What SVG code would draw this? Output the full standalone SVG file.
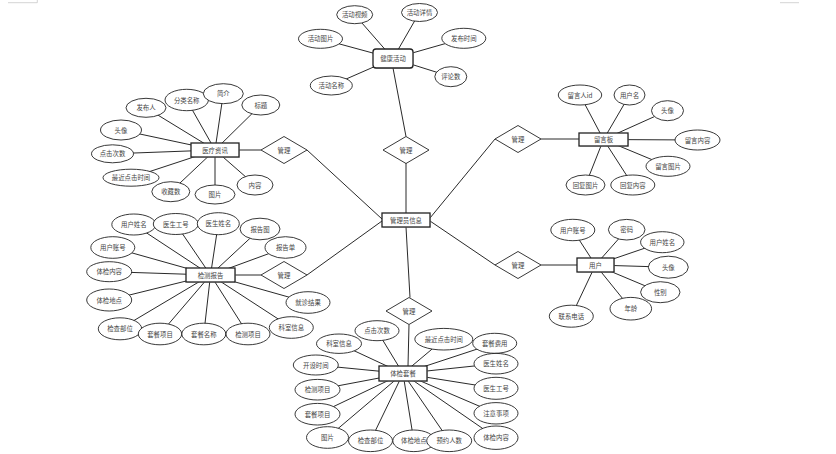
<svg xmlns="http://www.w3.org/2000/svg" width="836" height="454" viewBox="0 0 836 454">
<style>
text{font-family:"Noto Sans CJK SC","Noto Sans",sans-serif;font-size:6.4px;fill:#444;text-anchor:middle;dominant-baseline:central}
.c line{stroke:#111;stroke-width:0.9}
.a{fill:#fff;stroke:#222;stroke-width:0.9}
.e{fill:#fff;stroke:#222;stroke-width:1.3}
.sh{fill:#bbb;opacity:0.5}
.r{fill:#fff;stroke:#222;stroke-width:0.9}
.mark{stroke:#c8c8c8;stroke-width:0.8;fill:none}
</style>
<rect width="836" height="454" fill="#fff"/>
<path class="mark" d="M8,2.7H37.3V0M780,2.7H799"/>
<g id="connectors" class="c">
<line x1="406" y1="163" x2="406" y2="213"/>
<line x1="406" y1="136.5" x2="393" y2="68"/>
<line x1="261" y1="150" x2="239" y2="150"/>
<line x1="307" y1="150" x2="382" y2="219"/>
<line x1="261" y1="275" x2="235" y2="275"/>
<line x1="307" y1="275" x2="382" y2="221"/>
<line x1="541" y1="139" x2="579" y2="139"/>
<line x1="495" y1="139" x2="430" y2="218"/>
<line x1="541" y1="265" x2="577" y2="265"/>
<line x1="495" y1="265" x2="430" y2="221"/>
<line x1="410" y1="297.5" x2="406" y2="227"/>
<line x1="409" y1="324.5" x2="408" y2="366"/>
<!-- activity -->
<line x1="354.7" y1="14.7" x2="393" y2="58.5"/>
<line x1="419.5" y1="12.5" x2="393" y2="58.5"/>
<line x1="320.5" y1="38.8" x2="393" y2="58.5"/>
<line x1="463.8" y1="38.3" x2="393" y2="58.5"/>
<line x1="331.3" y1="85.5" x2="393" y2="58.5"/>
<line x1="450.8" y1="76.7" x2="393" y2="58.5"/>
<!-- news -->
<line x1="146" y1="107.8" x2="215" y2="150"/>
<line x1="186.7" y1="100" x2="215" y2="150"/>
<line x1="223.3" y1="93.7" x2="215" y2="150"/>
<line x1="260.8" y1="105" x2="215" y2="150"/>
<line x1="121" y1="130" x2="215" y2="150"/>
<line x1="112.5" y1="153.8" x2="215" y2="150"/>
<line x1="131" y1="177.7" x2="215" y2="150"/>
<line x1="170.8" y1="191.7" x2="215" y2="150"/>
<line x1="215" y1="194.5" x2="215" y2="150"/>
<line x1="255" y1="185" x2="215" y2="150"/>
<!-- board -->
<line x1="580" y1="95" x2="603.5" y2="139.5"/>
<line x1="629.5" y1="95" x2="603.5" y2="139.5"/>
<line x1="667.5" y1="110.7" x2="603.5" y2="139.5"/>
<line x1="697.5" y1="140" x2="603.5" y2="139.5"/>
<line x1="668" y1="166.3" x2="603.5" y2="139.5"/>
<line x1="585.5" y1="185" x2="603.5" y2="139.5"/>
<line x1="632.8" y1="185" x2="603.5" y2="139.5"/>
<!-- report -->
<line x1="133.8" y1="224.5" x2="210.5" y2="275"/>
<line x1="175.8" y1="224" x2="210.5" y2="275"/>
<line x1="218.3" y1="223.7" x2="210.5" y2="275"/>
<line x1="260" y1="229" x2="210.5" y2="275"/>
<line x1="285.5" y1="247.5" x2="210.5" y2="275"/>
<line x1="112.8" y1="247.5" x2="210.5" y2="275"/>
<line x1="109.2" y1="271.7" x2="210.5" y2="275"/>
<line x1="109.2" y1="300" x2="210.5" y2="275"/>
<line x1="120" y1="328.8" x2="210.5" y2="275"/>
<line x1="160" y1="334" x2="210.5" y2="275"/>
<line x1="203.8" y1="334" x2="210.5" y2="275"/>
<line x1="248" y1="334" x2="210.5" y2="275"/>
<line x1="291.3" y1="327.5" x2="210.5" y2="275"/>
<line x1="308" y1="302.5" x2="210.5" y2="275"/>
<!-- user -->
<line x1="572.8" y1="230" x2="595.5" y2="265"/>
<line x1="626.7" y1="229.7" x2="595.5" y2="265"/>
<line x1="662.3" y1="242.2" x2="595.5" y2="265"/>
<line x1="668.3" y1="267.2" x2="595.5" y2="265"/>
<line x1="660.3" y1="292.2" x2="595.5" y2="265"/>
<line x1="630.8" y1="308.7" x2="595.5" y2="265"/>
<line x1="571.3" y1="316.2" x2="595.5" y2="265"/>
<!-- package -->
<line x1="377" y1="330.7" x2="403" y2="373.5"/>
<line x1="443.8" y1="339.2" x2="403" y2="373.5"/>
<line x1="339" y1="343.7" x2="403" y2="373.5"/>
<line x1="494.7" y1="343.3" x2="403" y2="373.5"/>
<line x1="315.8" y1="365" x2="403" y2="373.5"/>
<line x1="496" y1="363.7" x2="403" y2="373.5"/>
<line x1="317.5" y1="389.7" x2="403" y2="373.5"/>
<line x1="496" y1="388.3" x2="403" y2="373.5"/>
<line x1="317.5" y1="414.2" x2="403" y2="373.5"/>
<line x1="496" y1="413.3" x2="403" y2="373.5"/>
<line x1="327.5" y1="437.5" x2="403" y2="373.5"/>
<line x1="370.5" y1="440.8" x2="403" y2="373.5"/>
<line x1="413.8" y1="440.8" x2="403" y2="373.5"/>
<line x1="449.2" y1="440.8" x2="403" y2="373.5"/>
<line x1="496" y1="437.7" x2="403" y2="373.5"/>
</g>

<!-- relationships -->
<g id="rel-activity"><polygon class="r" points="406,136.5 429,150 406,163.5 383,150"/><text x="406" y="150">管理</text></g>
<g id="rel-news"><polygon class="r" points="284,136.5 307,150 284,163.5 261,150"/><text x="284" y="150">管理</text></g>
<g id="rel-report"><polygon class="r" points="284,261.5 307,275 284,288.5 261,275"/><text x="284" y="275">管理</text></g>
<g id="rel-board"><polygon class="r" points="518,125.5 541,139 518,152.5 495,139"/><text x="518" y="139">管理</text></g>
<g id="rel-user"><polygon class="r" points="518,251.5 541,265 518,278.5 495,265"/><text x="518" y="265">管理</text></g>
<g id="rel-package"><polygon class="r" points="409,297.5 432,311 409,324.5 386,311"/><text x="409" y="311">管理</text></g>

<!-- entities -->
<g id="admin"><rect class="sh" x="383" y="214" width="48" height="14"/><rect class="e" x="382" y="213" width="48" height="14"/><text x="406" y="220">管理员信息</text></g>
<g id="activity"><rect class="sh" x="374" y="50" width="40" height="19" rx="3"/><rect class="e" x="373" y="49" width="40" height="19" rx="3"/><text x="393" y="58.5">健康活动</text></g>
<g id="news"><rect class="sh" x="192" y="144" width="48" height="14"/><rect class="e" x="191" y="143" width="48" height="14"/><text x="215" y="150">医疗资讯</text></g>
<g id="board"><rect class="sh" x="580" y="134" width="49" height="13"/><rect class="e" x="579" y="133" width="49" height="13"/><text x="603.5" y="139.5">留言板</text></g>
<g id="report"><rect class="sh" x="187" y="269" width="49" height="14"/><rect class="e" x="186" y="268" width="49" height="14"/><text x="210.5" y="275">检测报告</text></g>
<g id="user"><rect class="sh" x="578" y="259" width="37" height="14"/><rect class="e" x="577" y="258" width="37" height="14"/><text x="595.5" y="265">用户</text></g>
<g id="package"><rect class="sh" x="380" y="367" width="48" height="15"/><rect class="e" x="379" y="366" width="48" height="15"/><text x="403" y="373.5">体检套餐</text></g>

<!-- activity attributes -->
<g id="act-video"><ellipse class="a" cx="354.7" cy="14.7" rx="18" ry="9"/><text x="354.7" y="14.7">活动视频</text></g>
<g id="act-detail"><ellipse class="a" cx="419.5" cy="12.5" rx="18" ry="9"/><text x="419.5" y="12.5">活动详情</text></g>
<g id="act-pic"><ellipse class="a" cx="320.5" cy="38.8" rx="22" ry="9.5"/><text x="320.5" y="38.8">活动图片</text></g>
<g id="act-time"><ellipse class="a" cx="463.8" cy="38.3" rx="22" ry="10"/><text x="463.8" y="38.3">发布时间</text></g>
<g id="act-name"><ellipse class="a" cx="331.3" cy="85.5" rx="21" ry="9.5"/><text x="331.3" y="85.5">活动名称</text></g>
<g id="act-comments"><ellipse class="a" cx="450.8" cy="76.7" rx="16" ry="10"/><text x="450.8" y="76.7">评论数</text></g>

<!-- news attributes -->
<g id="news-pub"><ellipse class="a" cx="146" cy="107.8" rx="20" ry="9.5"/><text x="146" y="107.8">发布人</text></g>
<g id="news-cat"><ellipse class="a" cx="186.7" cy="100" rx="21.7" ry="10.7"/><text x="186.7" y="100">分类名称</text></g>
<g id="news-intro"><ellipse class="a" cx="223.3" cy="93.7" rx="20" ry="10"/><text x="223.3" y="93.7">简介</text></g>
<g id="news-title"><ellipse class="a" cx="260.8" cy="105" rx="19" ry="10"/><text x="260.8" y="105">标题</text></g>
<g id="news-avatar"><ellipse class="a" cx="121" cy="130" rx="20.5" ry="10"/><text x="121" y="130">头像</text></g>
<g id="news-clicks"><ellipse class="a" cx="112.5" cy="153.8" rx="21" ry="9"/><text x="112.5" y="153.8">点击次数</text></g>
<g id="news-lastclick"><ellipse class="a" cx="131" cy="177.7" rx="28" ry="8.5"/><text x="131" y="177.7">最近点击时间</text></g>
<g id="news-fav"><ellipse class="a" cx="170.8" cy="191.7" rx="19" ry="10"/><text x="170.8" y="191.7">收藏数</text></g>
<g id="news-pic"><ellipse class="a" cx="215" cy="194.5" rx="20" ry="9.5"/><text x="215" y="194.5">图片</text></g>
<g id="news-content"><ellipse class="a" cx="255" cy="185" rx="18" ry="10"/><text x="255" y="185">内容</text></g>

<!-- board attributes -->
<g id="board-uid"><ellipse class="a" cx="580" cy="95" rx="21.7" ry="10"/><text x="580" y="95">留言人id</text></g>
<g id="board-uname"><ellipse class="a" cx="629.5" cy="95" rx="15.5" ry="10"/><text x="629.5" y="95">用户名</text></g>
<g id="board-avatar"><ellipse class="a" cx="667.5" cy="110.7" rx="16" ry="10"/><text x="667.5" y="110.7">头像</text></g>
<g id="board-content"><ellipse class="a" cx="697.5" cy="140" rx="22.5" ry="10"/><text x="697.5" y="140">留言内容</text></g>
<g id="board-pic"><ellipse class="a" cx="668" cy="166.3" rx="22" ry="10"/><text x="668" y="166.3">留言图片</text></g>
<g id="board-replypic"><ellipse class="a" cx="585.5" cy="185" rx="19.5" ry="10"/><text x="585.5" y="185">回复图片</text></g>
<g id="board-reply"><ellipse class="a" cx="632.8" cy="185" rx="22" ry="10"/><text x="632.8" y="185">回复内容</text></g>

<!-- report attributes -->
<g id="rep-uname"><ellipse class="a" cx="133.8" cy="224.5" rx="22" ry="10.5"/><text x="133.8" y="224.5">用户姓名</text></g>
<g id="rep-docid"><ellipse class="a" cx="175.8" cy="224" rx="22.5" ry="10.5"/><text x="175.8" y="224">医生工号</text></g>
<g id="rep-docname"><ellipse class="a" cx="218.3" cy="223.7" rx="21" ry="11"/><text x="218.3" y="223.7">医生姓名</text></g>
<g id="rep-img"><ellipse class="a" cx="260" cy="229" rx="20" ry="10.8"/><text x="260" y="229">报告图</text></g>
<g id="rep-sheet"><ellipse class="a" cx="285.5" cy="247.5" rx="20.5" ry="10.8"/><text x="285.5" y="247.5">报告单</text></g>
<g id="rep-account"><ellipse class="a" cx="112.8" cy="247.5" rx="22" ry="10.8"/><text x="112.8" y="247.5">用户账号</text></g>
<g id="rep-content"><ellipse class="a" cx="109.2" cy="271.7" rx="22.5" ry="10"/><text x="109.2" y="271.7">体检内容</text></g>
<g id="rep-place"><ellipse class="a" cx="109.2" cy="300" rx="22.5" ry="11"/><text x="109.2" y="300">体检地点</text></g>
<g id="rep-part"><ellipse class="a" cx="120" cy="328.8" rx="21.7" ry="11"/><text x="120" y="328.8">检查部位</text></g>
<g id="rep-item"><ellipse class="a" cx="160" cy="334" rx="21.7" ry="10.8"/><text x="160" y="334">套餐项目</text></g>
<g id="rep-pkgname"><ellipse class="a" cx="203.8" cy="334" rx="22" ry="10.8"/><text x="203.8" y="334">套餐名称</text></g>
<g id="rep-test"><ellipse class="a" cx="248" cy="334" rx="22" ry="10.8"/><text x="248" y="334">检测项目</text></g>
<g id="rep-dept"><ellipse class="a" cx="291.3" cy="327.5" rx="22" ry="10.8"/><text x="291.3" y="327.5">科室信息</text></g>
<g id="rep-result"><ellipse class="a" cx="308" cy="302.5" rx="22" ry="10.8"/><text x="308" y="302.5">就诊结果</text></g>

<!-- user attributes -->
<g id="user-account"><ellipse class="a" cx="572.8" cy="230" rx="22" ry="10.7"/><text x="572.8" y="230">用户账号</text></g>
<g id="user-pwd"><ellipse class="a" cx="626.7" cy="229.7" rx="18.3" ry="10.3"/><text x="626.7" y="229.7">密码</text></g>
<g id="user-name"><ellipse class="a" cx="662.3" cy="242.2" rx="21.7" ry="10.5"/><text x="662.3" y="242.2">用户姓名</text></g>
<g id="user-avatar"><ellipse class="a" cx="668.3" cy="267.2" rx="20" ry="11"/><text x="668.3" y="267.2">头像</text></g>
<g id="user-sex"><ellipse class="a" cx="660.3" cy="292.2" rx="19.7" ry="10.5"/><text x="660.3" y="292.2">性别</text></g>
<g id="user-age"><ellipse class="a" cx="630.8" cy="308.7" rx="20.8" ry="11.3"/><text x="630.8" y="308.7">年龄</text></g>
<g id="user-phone"><ellipse class="a" cx="571.3" cy="316.2" rx="22" ry="11"/><text x="571.3" y="316.2">联系电话</text></g>

<!-- package attributes -->
<g id="pkg-clicks"><ellipse class="a" cx="377" cy="330.7" rx="22" ry="10"/><text x="377" y="330.7">点击次数</text></g>
<g id="pkg-lastclick"><ellipse class="a" cx="443.8" cy="339.2" rx="29" ry="10.8"/><text x="443.8" y="339.2">最近点击时间</text></g>
<g id="pkg-dept"><ellipse class="a" cx="339" cy="343.7" rx="22.5" ry="9.7"/><text x="339" y="343.7">科室信息</text></g>
<g id="pkg-fee"><ellipse class="a" cx="494.7" cy="343.3" rx="22" ry="10"/><text x="494.7" y="343.3">套餐费用</text></g>
<g id="pkg-open"><ellipse class="a" cx="315.8" cy="365" rx="22.5" ry="10"/><text x="315.8" y="365">开设时间</text></g>
<g id="pkg-docname"><ellipse class="a" cx="496" cy="363.7" rx="22" ry="10.3"/><text x="496" y="363.7">医生姓名</text></g>
<g id="pkg-test"><ellipse class="a" cx="317.5" cy="389.7" rx="22.5" ry="10.3"/><text x="317.5" y="389.7">检测项目</text></g>
<g id="pkg-docid"><ellipse class="a" cx="496" cy="388.3" rx="22" ry="11"/><text x="496" y="388.3">医生工号</text></g>
<g id="pkg-item"><ellipse class="a" cx="317.5" cy="414.2" rx="22.5" ry="10.8"/><text x="317.5" y="414.2">套餐项目</text></g>
<g id="pkg-notice"><ellipse class="a" cx="496" cy="413.3" rx="22" ry="10.7"/><text x="496" y="413.3">注意事项</text></g>
<g id="pkg-pic"><ellipse class="a" cx="327.5" cy="437.5" rx="21" ry="10.8"/><text x="327.5" y="437.5">图片</text></g>
<g id="pkg-part"><ellipse class="a" cx="370.5" cy="440.8" rx="22" ry="10.8"/><text x="370.5" y="440.8">检查部位</text></g>
<g id="pkg-place"><ellipse class="a" cx="413.8" cy="440.8" rx="21" ry="10.8"/><text x="413.8" y="440.8">体检地点</text></g>
<g id="pkg-count"><ellipse class="a" cx="449.2" cy="440.8" rx="22.5" ry="10.8"/><text x="449.2" y="440.8">预约人数</text></g>
<g id="pkg-content"><ellipse class="a" cx="496" cy="437.7" rx="22" ry="11.7"/><text x="496" y="437.7">体检内容</text></g>
</svg>
